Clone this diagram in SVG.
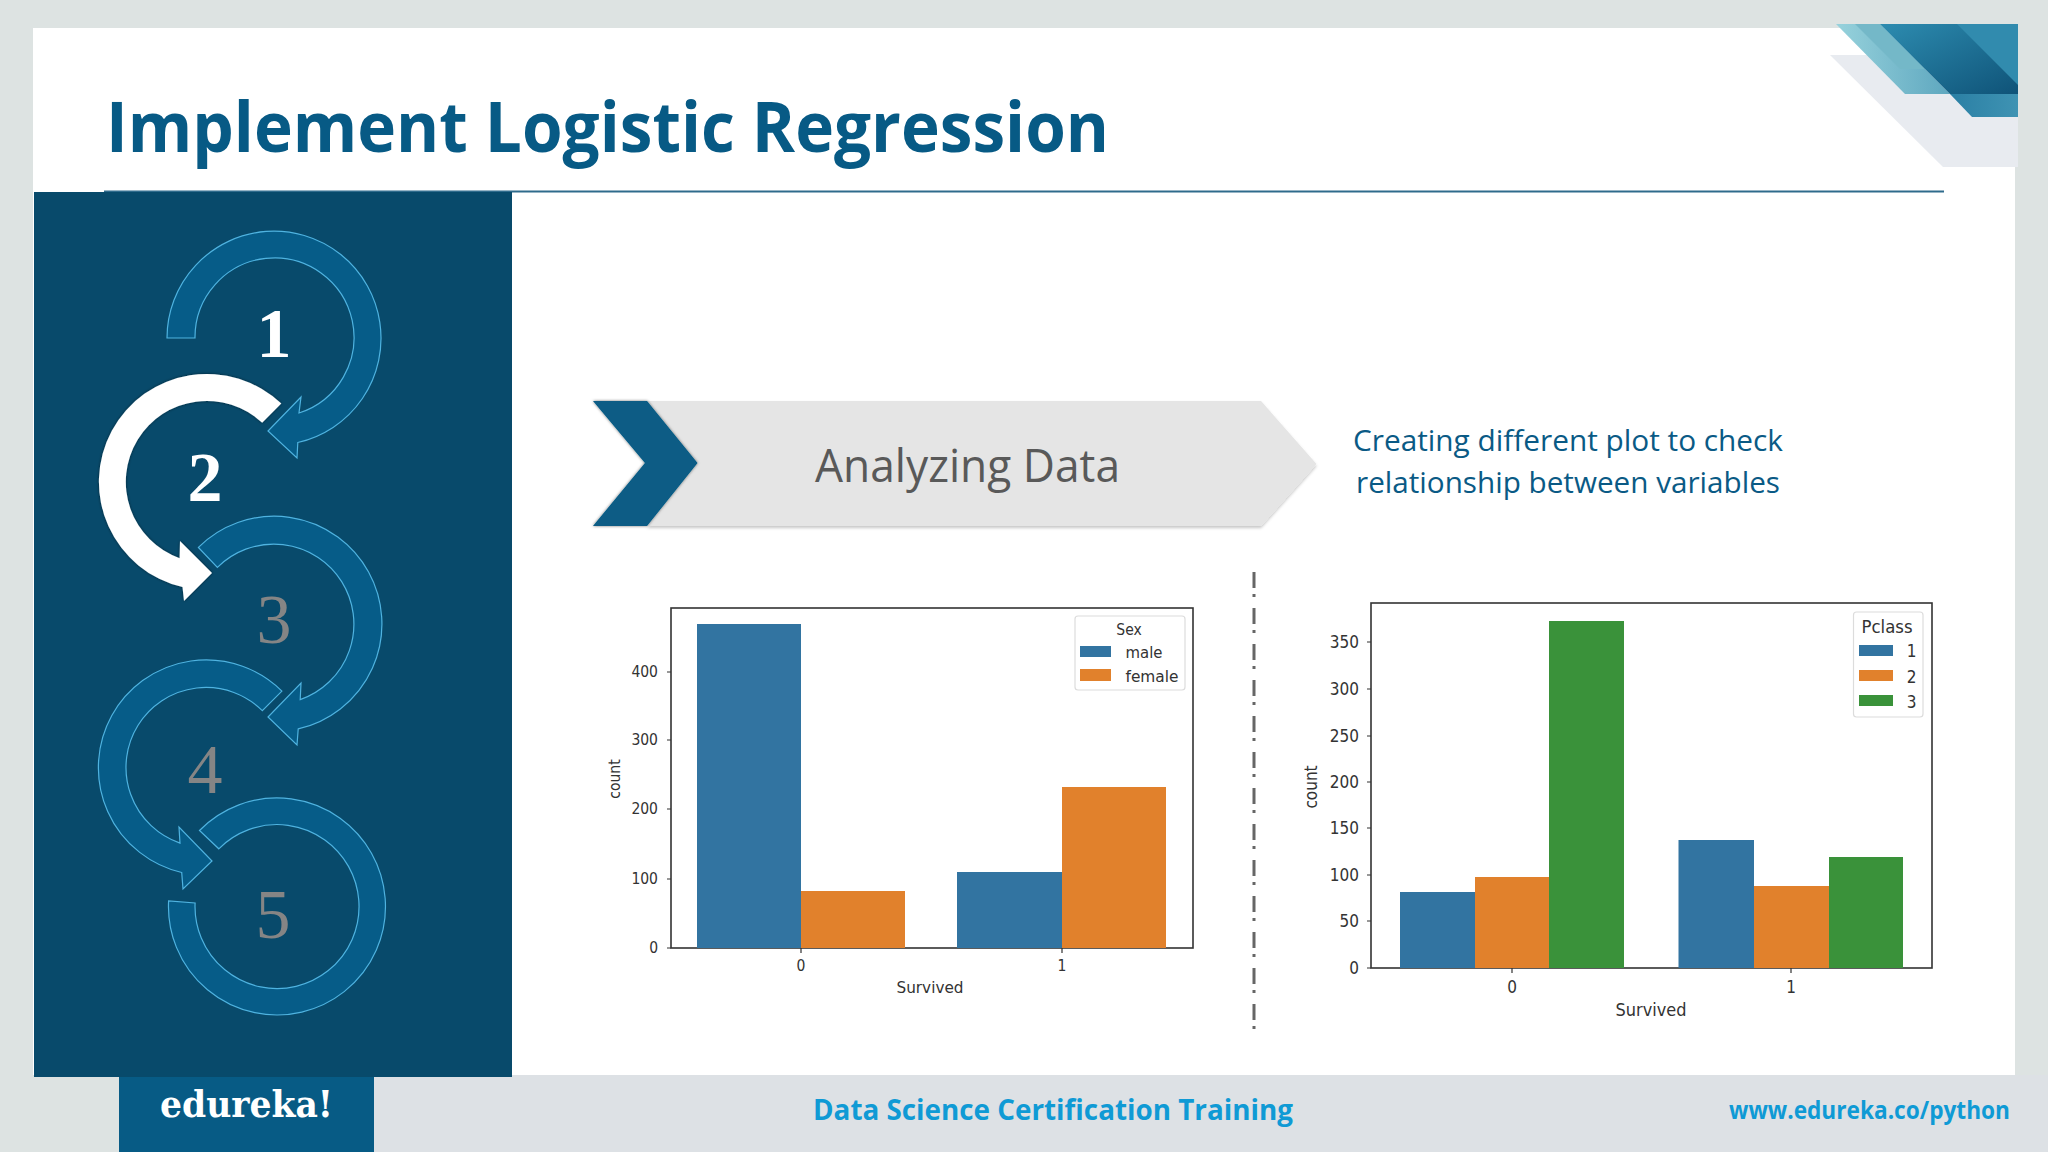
<svg xmlns="http://www.w3.org/2000/svg" width="2048" height="1152" viewBox="0 0 2048 1152">
<defs>
<linearGradient id="tealLight" x1="0" y1="0" x2="1" y2="0"><stop offset="0" stop-color="#97d2dc"/><stop offset="1" stop-color="#5ea7bf"/></linearGradient>
<linearGradient id="tealDark" x1="0" y1="0" x2="1" y2="1"><stop offset="0" stop-color="#2d8cb0"/><stop offset="1" stop-color="#0f5378"/></linearGradient>
<linearGradient id="tealLow" x1="0" y1="0" x2="1" y2="0"><stop offset="0" stop-color="#2a7fa4"/><stop offset="1" stop-color="#3f93b3"/></linearGradient>
<filter id="softShadow" x="-10%" y="-10%" width="120%" height="120%"><feDropShadow dx="0" dy="0" stdDeviation="1.6" flood-color="#000" flood-opacity="0.55"/></filter>
<filter id="barShadow" x="-3%" y="-5%" width="106%" height="115%"><feDropShadow dx="0" dy="2" stdDeviation="1.5" flood-color="#000" flood-opacity="0.22"/></filter>
</defs>
<style>
.ring{fill:#065c88;stroke:#4fb3e0;stroke-width:1.2}
.white{fill:#fff;filter:url(#softShadow)}
.num{font-family:"Liberation Serif",serif;font-size:70px;text-anchor:middle}
.on{fill:#fff;font-weight:700}
.off{fill:#858585}
.ax{font-family:"DejaVu Sans",sans-serif;font-stretch:condensed;fill:#333}
.a1{font-size:15.5px}
.a2{font-size:17px}
.end{text-anchor:end}
.mid{text-anchor:middle}
.frame{fill:#fff;stroke:#333;stroke-width:1.6}
.tick{stroke:#333;stroke-width:1.2}
.legend{fill:#fff;stroke:#dcdcdc;stroke-width:1.2}
.b{fill:#3274a1}.o{fill:#e1812c}.g{fill:#3a923a}
.sans{font-family:"Open Sans","Noto Sans",sans-serif}
.sub{font-size:30px;fill:#0a5a85;text-anchor:start}
.foot{font-weight:700;fill:#0f9ad5}
</style>

<rect width="2048" height="1152" fill="#dde3e2"/>
<rect x="374" y="1075" width="1674" height="77" fill="#dde1e5"/>
<rect x="33" y="28" width="1982" height="1047" fill="#fff"/>

<g id="corner-decoration">
<polygon points="1830,55 2018,55 2018,167 1943,167" fill="#e8ebf0"/>
<polygon points="1836,24 1880,24 1950,94 1905,94" fill="url(#tealLight)"/>
<polygon points="1855,24 1880,24 1925,69 1900,69" fill="#74b8c8"/>
<polygon points="1950,94 2018,94 2018,117 1972,117" fill="url(#tealLow)"/>
<polygon points="1880,24 2018,24 2018,94 1950,94" fill="url(#tealDark)"/>
<polygon points="1957,24 2018,24 2018,85" fill="#318bae"/>
</g>

<g id="title">
<text x="106" y="152" class="sans" font-size="70" font-weight="700" fill="#075a85" textLength="1003" lengthAdjust="spacingAndGlyphs">Implement Logistic Regression</text>
<rect x="104" y="190.500" width="1840" height="2" fill="#2f6b8c"/>
</g>

<rect id="side-panel" x="34" y="192" width="478" height="885" fill="#084a6b"/>

<g id="step-1">
<path class="ring" d="M167,338 A107 107 0 1 1 297.800,442.500 L297,458 L268,431 L301,397 L299,413 A79.500 79.500 0 1 0 195,338 Z"/>
<text class="num on" x="274" y="357">1</text>
</g>
<g id="step-2">
<path class="white" d="M281.300,403.600 A108 108 0 1 0 182.500,587.100 L184,601 L212,573 L180,541 L179.600,558.200 A81 81 0 1 1 262.200,422.800 Z"/>
<text class="num on" x="205" y="501">2</text>
</g>
<g id="step-3">
<path class="ring" d="M198.400,547.400 A107.700 107.700 0 1 1 298.200,728.900 L297,745 L268,717 L301,683 L300.200,699.600 A80 80 0 1 0 217.400,567.400 Z"/>
<text class="num off" x="274" y="643">3</text>
</g>
<g id="step-4">
<path class="ring" d="M281.900,691.100 A107.700 107.700 0 1 0 181.700,872.500 L183,889 L212,861 L179,827 L180,843.100 A80 80 0 1 1 262.300,710.600 Z"/>
<text class="num off" x="205" y="793">4</text>
</g>
<g id="step-5">
<path class="ring" d="M199.500,830.500 A108.500 108.500 0 1 1 168.600,901 L195.100,903 A82 82 0 1 0 218.800,848.800 Z"/>
<text class="num off" x="273" y="938">5</text>
</g>

<g id="analyzing-banner">
<polygon points="647,401 1261,401 1316.500,464 1261,526 647,526 697,463" fill="#e5e5e5" filter="url(#barShadow)"/>
<polygon points="593,401 647,401 697.500,463 647,526 593,526 645,463" fill="#075b85" filter="url(#softShadow)"/>
<text x="815" y="482" class="sans" font-size="45" fill="#595959" textLength="305" lengthAdjust="spacingAndGlyphs">Analyzing Data</text>
</g>

<g id="banner-caption" class="sans">
<text class="sub" x="1353" y="451" textLength="430" lengthAdjust="spacingAndGlyphs">Creating different plot to check</text>
<text class="sub" x="1356" y="493" textLength="424" lengthAdjust="spacingAndGlyphs">relationship between variables</text>
</g>

<g id="chart-sex">
<rect class="frame" x="671" y="608" width="522" height="340"/>
<rect class="b" x="697" y="624" width="104" height="324"/>
<rect class="o" x="801" y="891" width="104" height="57"/>
<rect class="b" x="957" y="872" width="105" height="76"/>
<rect class="o" x="1062" y="787" width="104" height="161"/>
<path class="tick" d="M667,672H671M667,740H671M667,809H671M667,879H671M667,948H671M801,948V953M1062,948V953"/>
<g class="ax a1">
<text class="end" x="658" y="677">400</text>
<text class="end" x="658" y="745">300</text>
<text class="end" x="658" y="814">200</text>
<text class="end" x="658" y="884">100</text>
<text class="end" x="658" y="953">0</text>
<text class="mid" x="801" y="971">0</text>
<text class="mid" x="1062" y="971">1</text>
<text class="mid" x="930" y="993" textLength="67" lengthAdjust="spacingAndGlyphs">Survived</text>
<text class="mid" transform="translate(620,779) rotate(-90)">count</text>
</g>
<rect class="legend" x="1075" y="616" width="110" height="74" rx="3"/>
<rect class="b" x="1080" y="646" width="31" height="11"/>
<rect class="o" x="1080" y="669" width="31" height="12"/>
<g class="ax a1">
<text class="mid" x="1129" y="635">Sex</text>
<text x="1125.500" y="658" textLength="37" lengthAdjust="spacingAndGlyphs">male</text>
<text x="1125.500" y="682" textLength="53" lengthAdjust="spacingAndGlyphs">female</text>
</g>
</g>

<g id="connectors">
<line id="divider" x1="1254" y1="572" x2="1254" y2="1034" stroke="#666" stroke-width="3" stroke-dasharray="16 6 3 11"/>
</g>

<g id="chart-pclass">
<rect class="frame" x="1371" y="603" width="561" height="365"/>
<rect class="b" x="1400" y="892" width="75" height="76"/>
<rect class="o" x="1475" y="877" width="74" height="91"/>
<rect class="g" x="1549" y="621" width="75" height="347"/>
<rect class="b" x="1678.500" y="840" width="75.500" height="128"/>
<rect class="o" x="1754" y="886" width="75" height="82"/>
<rect class="g" x="1829" y="857" width="74" height="111"/>
<path class="tick" d="M1367,642H1371M1367,689H1371M1367,736H1371M1367,782H1371M1367,828H1371M1367,875H1371M1367,921H1371M1367,968H1371M1512,968V973M1791,968V973"/>
<g class="ax a2">
<text class="end" x="1359" y="648">350</text>
<text class="end" x="1359" y="695">300</text>
<text class="end" x="1359" y="742">250</text>
<text class="end" x="1359" y="788">200</text>
<text class="end" x="1359" y="834">150</text>
<text class="end" x="1359" y="881">100</text>
<text class="end" x="1359" y="927">50</text>
<text class="end" x="1359" y="974">0</text>
<text class="mid" x="1512" y="993">0</text>
<text class="mid" x="1791" y="993">1</text>
<text class="mid" x="1651" y="1016" textLength="71" lengthAdjust="spacingAndGlyphs">Survived</text>
<text class="mid" transform="translate(1317,787) rotate(-90)">count</text>
</g>
<rect class="legend" x="1853.500" y="612" width="69.500" height="105" rx="3"/>
<rect class="b" x="1859" y="645" width="34" height="11"/>
<rect class="o" x="1859" y="670" width="34" height="11"/>
<rect class="g" x="1859" y="695" width="34" height="11"/>
<g class="ax a2">
<text class="mid" x="1887" y="633" textLength="51" lengthAdjust="spacingAndGlyphs">Pclass</text>
<text class="mid" x="1911.500" y="657">1</text>
<text class="mid" x="1911.500" y="683">2</text>
<text class="mid" x="1911.500" y="708">3</text>
</g>
</g>

<g id="footer">
<rect x="119" y="1077" width="255" height="75" fill="#075b85"/>
<text x="160" y="1117" font-family="'DejaVu Serif',serif" font-size="37" font-weight="700" fill="#fff" textLength="173" lengthAdjust="spacingAndGlyphs">edureka!</text>
<text class="sans foot" font-size="28" x="813" y="1120" textLength="480" lengthAdjust="spacingAndGlyphs">Data Science Certification Training</text>
<text class="sans foot" font-size="25" x="1729" y="1119" textLength="281" lengthAdjust="spacingAndGlyphs">www.edureka.co/python</text>
</g>
</svg>
